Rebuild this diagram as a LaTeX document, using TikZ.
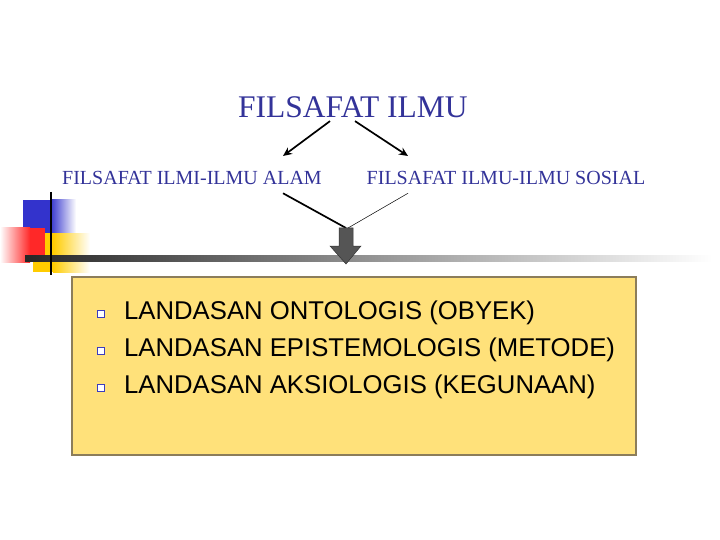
\documentclass[tikz,border=0pt]{standalone}
\usepackage{fontspec}
\setmainfont{Liberation Serif}
\setsansfont{Liberation Sans}
\usetikzlibrary{arrows.meta}
\definecolor{titleblue}{RGB}{51,51,153}
\definecolor{bulletblue}{RGB}{60,60,190}
\definecolor{panelfill}{RGB}{255,225,122}
\definecolor{paneledge}{RGB}{140,125,90}
\definecolor{decoblue}{RGB}{51,51,204}
\definecolor{decored}{RGB}{255,40,40}
\definecolor{decoyellow}{RGB}{255,204,0}
\definecolor{blockgray}{RGB}{85,85,85}
\begin{document}
\begin{tikzpicture}[x=1pt,y=-1pt,
	heading/.style={text=titleblue,font=\fontsize{31.5}{34}\selectfont},
	branch/.style={text=titleblue,font=\fontsize{20}{23}\selectfont},
	arr/.style={-{Stealth[length=9pt,width=8pt]},line width=1.7pt},
	link/.style={line width=#1},
	item/.style={anchor=base west,inner sep=0pt,font=\sffamily\fontsize{25.7}{28}\selectfont},
	bullet/.style={draw=bulletblue,line width=1.3pt,fill=white,minimum size=6.5pt,inner sep=0pt}]

	\useasboundingbox (0,0) rectangle (720,540);

	\fill[decoblue] (23,200) rectangle (50,233);
	\shade[left color=decoblue,right color=white] (50,200) rectangle (76,233);
	\fill[decoyellow] (33,233) rectangle (53,272);
	\shade[left color=decoyellow,right color=white] (53,233) rectangle (90,272);
	\shade[left color=white,right color=decored] (0,228) rectangle (30,262);
	\fill[decored] (30,228) rectangle (45,262);
	\shade[left color=black!85,right color=white] (25,255.5) rectangle (712,261);
	\draw[line width=2.6pt] (51,192) -- (51,275);

	\node[heading] (title) at (353,107) {FILSAFAT ILMU};
	\node[branch] (alam) at (192,178) {FILSAFAT ILMI-ILMU ALAM};
	\node[branch] (sosial) at (506,178) {FILSAFAT ILMU-ILMU SOSIAL};

	\coordinate (lefttip) at (283,156);
	\coordinate (righttip) at (408,156);
	\coordinate (join) at (346,228);
	\draw[arr] ([xshift=-23pt]title.south) -- (lefttip);
	\draw[arr] ([xshift=2pt]title.south) -- (righttip);
	\draw[link=1.7pt] ([shift={(91,5)}]alam.south) -- (join);
	\draw[link=0.5pt] ([shift={(-98,5)}]sosial.south) -- ([xshift=2pt]join);

	\filldraw[fill=blockgray,draw=black!80,line width=0.5pt]
		([xshift=-7pt]join) -- ([xshift=7pt]join) -- ++(0,18) -- ++(8,0)
		-- (346,264) -- (330,246) -- ++(9,0) -- cycle;

	\draw[fill=panelfill,draw=paneledge,line width=1.4pt] (72,277) rectangle (636,455);
	\foreach \y/\name/\txt in {319/onto/{LANDASAN ONTOLOGIS (OBYEK)},
		356/episte/{LANDASAN EPISTEMOLOGIS (METODE)},
		393/aksio/{LANDASAN AKSIOLOGIS (KEGUNAAN)}}{
		\node[item] (\name) at (124,\y) {\txt};
		\node[bullet] at (101,\y-5) {};
	}

\end{tikzpicture}
\end{document}
